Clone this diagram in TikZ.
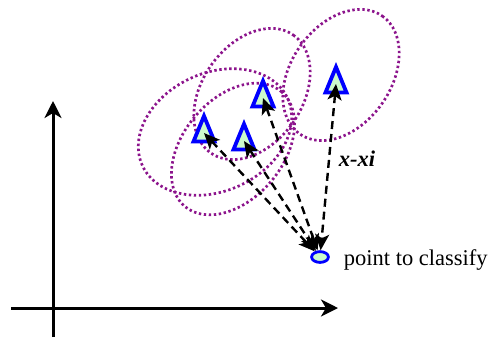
\documentclass[tikz,border=0pt]{standalone}
\usepackage{fontspec}
\setmainfont{Liberation Serif}
\usetikzlibrary{positioning,arrows.meta,calc,shapes.geometric}
\definecolor{ringpurple}{RGB}{140,20,140}
\definecolor{protofill}{RGB}{204,250,204}

\begin{document}
\begin{tikzpicture}[
  x=0.5pt,y=-0.5pt,
  >=Stealth,
  axis/.style={line width=1.5pt,-{Stealth[length=8.5pt,width=8.5pt,inset=2.5pt]}},
  ring/.style={ringpurple,line width=1.35pt,dash pattern=on 1.2pt off 1.3pt},
  proto/.style={draw=blue,line width=1.9pt,fill=protofill,line join=miter},
  query/.style={ellipse,draw=blue,line width=1.4pt,fill=protofill,
                minimum width=8.4pt,minimum height=5.4pt,inner sep=0pt},
  link/.style={line width=1.2pt,dash pattern=on 4pt off 2.5pt,
               {Stealth[length=8pt,width=7pt,inset=2pt]}-{Stealth[length=8pt,width=7pt,inset=2pt]}},
  lbl/.style={font=\fontsize{11.25}{13}\selectfont}
]
\useasboundingbox (0,0) rectangle (491,338);

% axes
\coordinate (xl) at (11,308);
\coordinate (xr) at (338,308);
\coordinate (yb) at (53,337);
\coordinate (yt) at (53,101);
\draw[axis] (xl) -- (xr);
\draw[axis] (yb) -- (yt);

% kernel windows round the training points
\foreach \cx/\cy/\rx/\ry/\ang in {215/132/80/59/25,233/149/75/50/50,252/94/72/50/55,341/75/72/50/55}{
  \draw[ring,rotate around={\ang:(\cx,\cy)}] (\cx,\cy) ellipse ({\rx} and {\ry});
}

% training points
\foreach \n/\cx/\cy in {t1/204/133,t2/244/141,t3/263/98,t4/336/84}{
  \coordinate (\n) at (\cx,\cy);
  \draw[proto] ($(\n)+(0,-17)$) -- ($(\n)+(10.5,8.5)$) -- ($(\n)+(-10.5,8.5)$) -- cycle;
}

\node[query] (p) at (320,257) {};
\node[lbl,right=3.5pt of p,yshift=-1.7pt] (plbl) {point to classify};

\foreach \n in {t1,t2,t3}{
  \draw[link] (\n) -- (p);
}
\draw[link] (t4) -- node[lbl,pos=0.45,right=1pt,font=\fontsize{11.25}{13}\selectfont\bfseries\itshape] (dx) {x-xi} (p);
\end{tikzpicture}
\end{document}
